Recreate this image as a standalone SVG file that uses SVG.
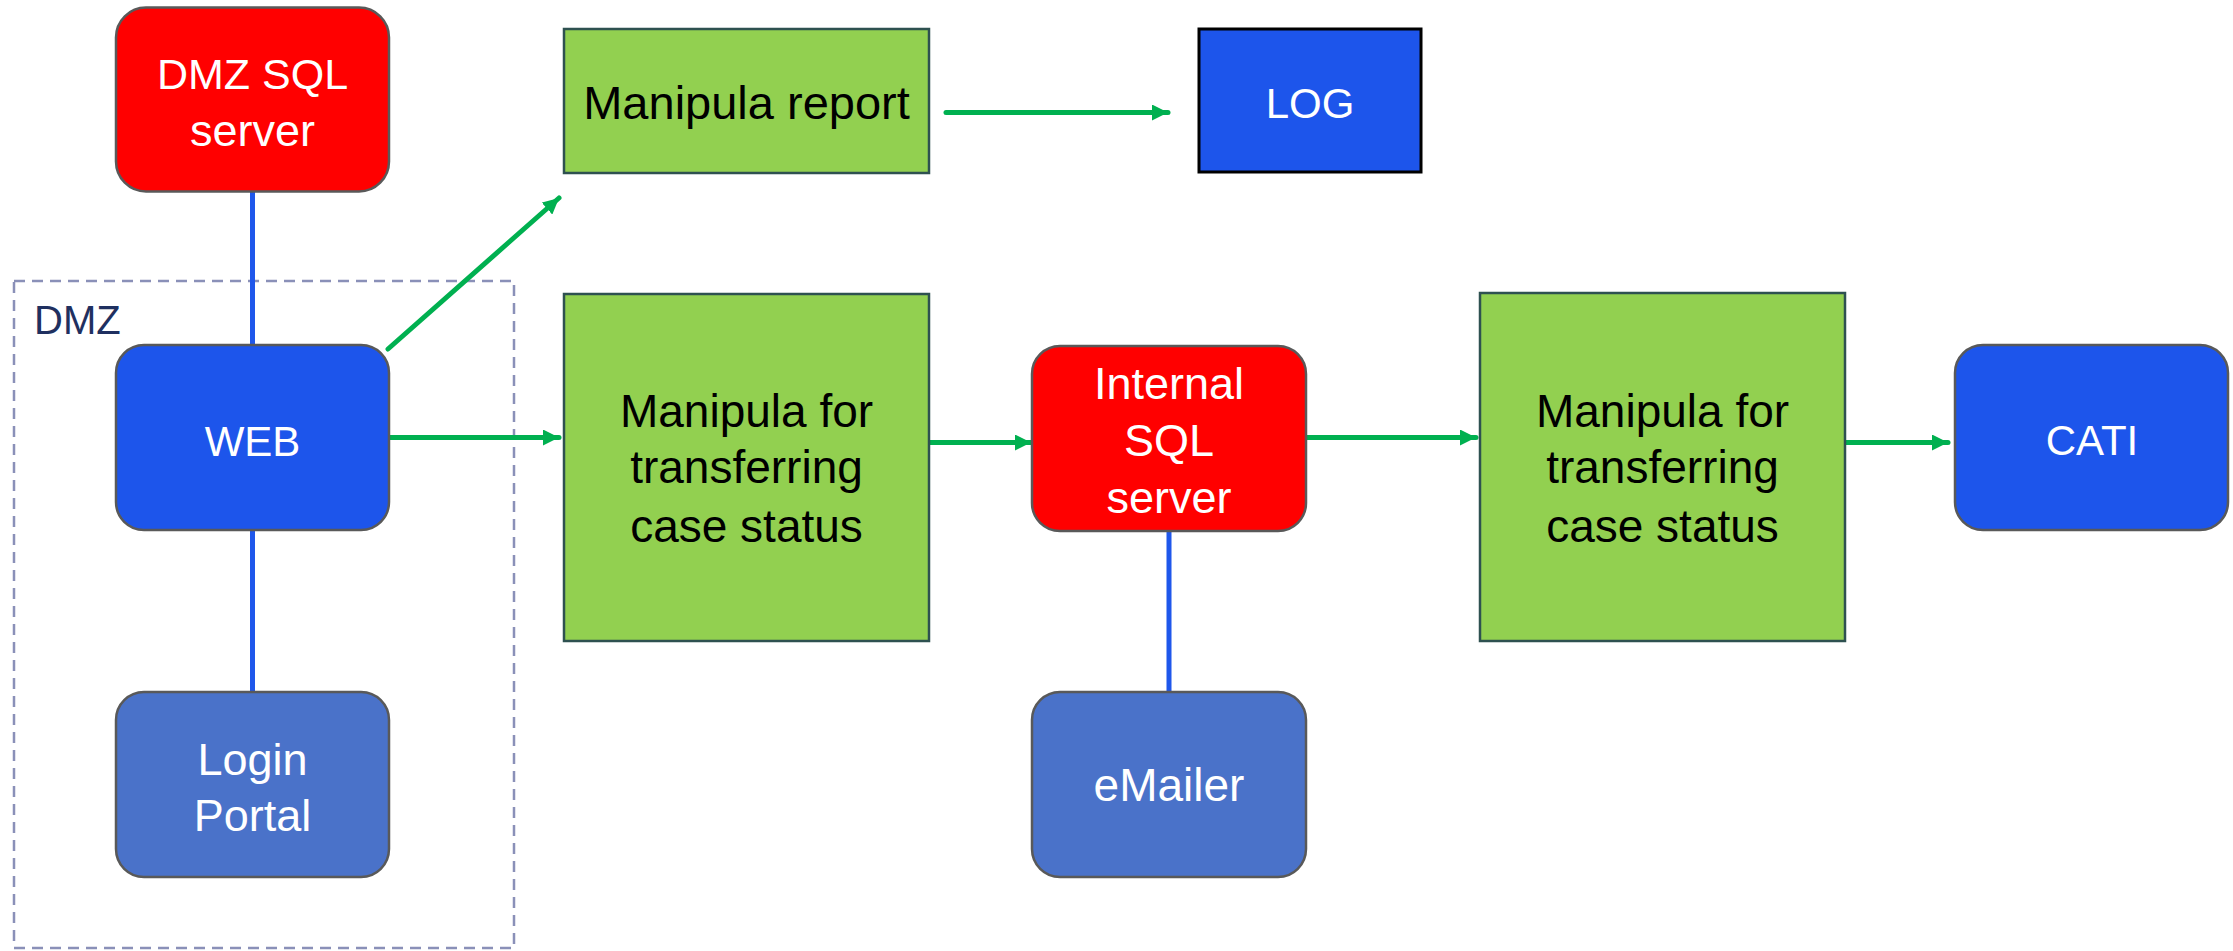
<svg xmlns="http://www.w3.org/2000/svg" width="2233" height="951" viewBox="0 0 2233 951">
<style>
text{font-family:"Liberation Sans",Arial,sans-serif;text-anchor:middle}
.w{fill:#ffffff}
.k{fill:#000000}
.rr{stroke:#595959;stroke-width:2.5}
.red{fill:#ff0000}
.blue{fill:#1d55eb}
.lblue{fill:#4a72c9}
.grn{fill:#92d050;stroke:#2e5150;stroke-width:2.5}
.ga{stroke:#00b050;stroke-width:5;stroke-linecap:round;fill:none;marker-end:url(#ah)}
.bl{stroke:#1f57eb;stroke-width:5;fill:none}
</style>
<defs>
<marker id="ah" markerUnits="userSpaceOnUse" markerWidth="17" markerHeight="16" refX="16" refY="8" orient="auto" viewBox="0 0 17 16">
<path d="M0,0 L16,8 L0,16 z" fill="#00b050"/>
</marker>
</defs>
<rect id="dmz-zone" x="14" y="281" width="500" height="667" fill="none" stroke="#8a90b8" stroke-width="2.5" stroke-dasharray="11 7"/>
<text x="34" y="334" style="text-anchor:start;font-size:40px;fill:#1f3060">DMZ</text>
<g id="connectors">
<line class="bl" x1="252.5" y1="191" x2="252.5" y2="345"/>
<line class="bl" x1="252.5" y1="530" x2="252.5" y2="692"/>
<line class="bl" x1="1169" y1="531" x2="1169" y2="692"/>
<line class="ga" x1="946" y1="112.5" x2="1168" y2="112.5"/>
<line class="ga" x1="388" y1="349" x2="559" y2="198"/>
<line class="ga" x1="389" y1="437.5" x2="559" y2="437.5"/>
<line class="ga" x1="929" y1="442.5" x2="1031" y2="442.5"/>
<line class="ga" x1="1306" y1="437.5" x2="1476" y2="437.5"/>
<line class="ga" x1="1846" y1="442.5" x2="1948" y2="442.5"/>
</g>
<g id="dmz-sql">
<rect class="rr red" x="116" y="7.5" width="273" height="184" rx="30"/>
<text class="w" x="252.5" y="89" font-size="43">DMZ SQL</text>
<text class="w" x="252.5" y="146" font-size="45">server</text>
</g>
<g id="manipula-report">
<rect class="grn" x="564" y="29" width="365" height="144"/>
<text class="k" x="746.5" y="119" font-size="47">Manipula report</text>
</g>
<g id="log">
<rect x="1199" y="29" width="222" height="143" fill="#1d55eb" stroke="#000000" stroke-width="3"/>
<text class="w" x="1310" y="118" font-size="42">LOG</text>
</g>
<g id="web">
<rect class="rr blue" x="116" y="345" width="273" height="185" rx="28"/>
<text class="w" x="252.5" y="456" font-size="42">WEB</text>
</g>
<g id="login-portal">
<rect class="rr lblue" x="116" y="692" width="273" height="185" rx="28"/>
<text class="w" x="252.5" y="775" font-size="45">Login</text>
<text class="w" x="252.5" y="831" font-size="45">Portal</text>
</g>
<g id="manipula-transfer-1">
<rect class="grn" x="564" y="294" width="365" height="347"/>
<text class="k" x="746.5" y="427" font-size="46">Manipula for</text>
<text class="k" x="746.5" y="483" font-size="46">transferring</text>
<text class="k" x="746.5" y="542" font-size="46">case status</text>
</g>
<g id="internal-sql">
<rect class="rr red" x="1032" y="346" width="274" height="185" rx="28"/>
<text class="w" x="1169" y="399" font-size="45">Internal</text>
<text class="w" x="1169" y="456" font-size="45">SQL</text>
<text class="w" x="1169" y="513" font-size="45">server</text>
</g>
<g id="emailer">
<rect class="rr lblue" x="1032" y="692" width="274" height="185" rx="28"/>
<text class="w" x="1169" y="801" font-size="46">eMailer</text>
</g>
<g id="manipula-transfer-2">
<rect class="grn" x="1480" y="293" width="365" height="348"/>
<text class="k" x="1662.5" y="427" font-size="46">Manipula for</text>
<text class="k" x="1662.5" y="483" font-size="46">transferring</text>
<text class="k" x="1662.5" y="542" font-size="46">case status</text>
</g>
<g id="cati">
<rect class="rr blue" x="1955" y="345" width="273" height="185" rx="28"/>
<text class="w" x="2092" y="455" font-size="42">CATI</text>
</g>
</svg>
